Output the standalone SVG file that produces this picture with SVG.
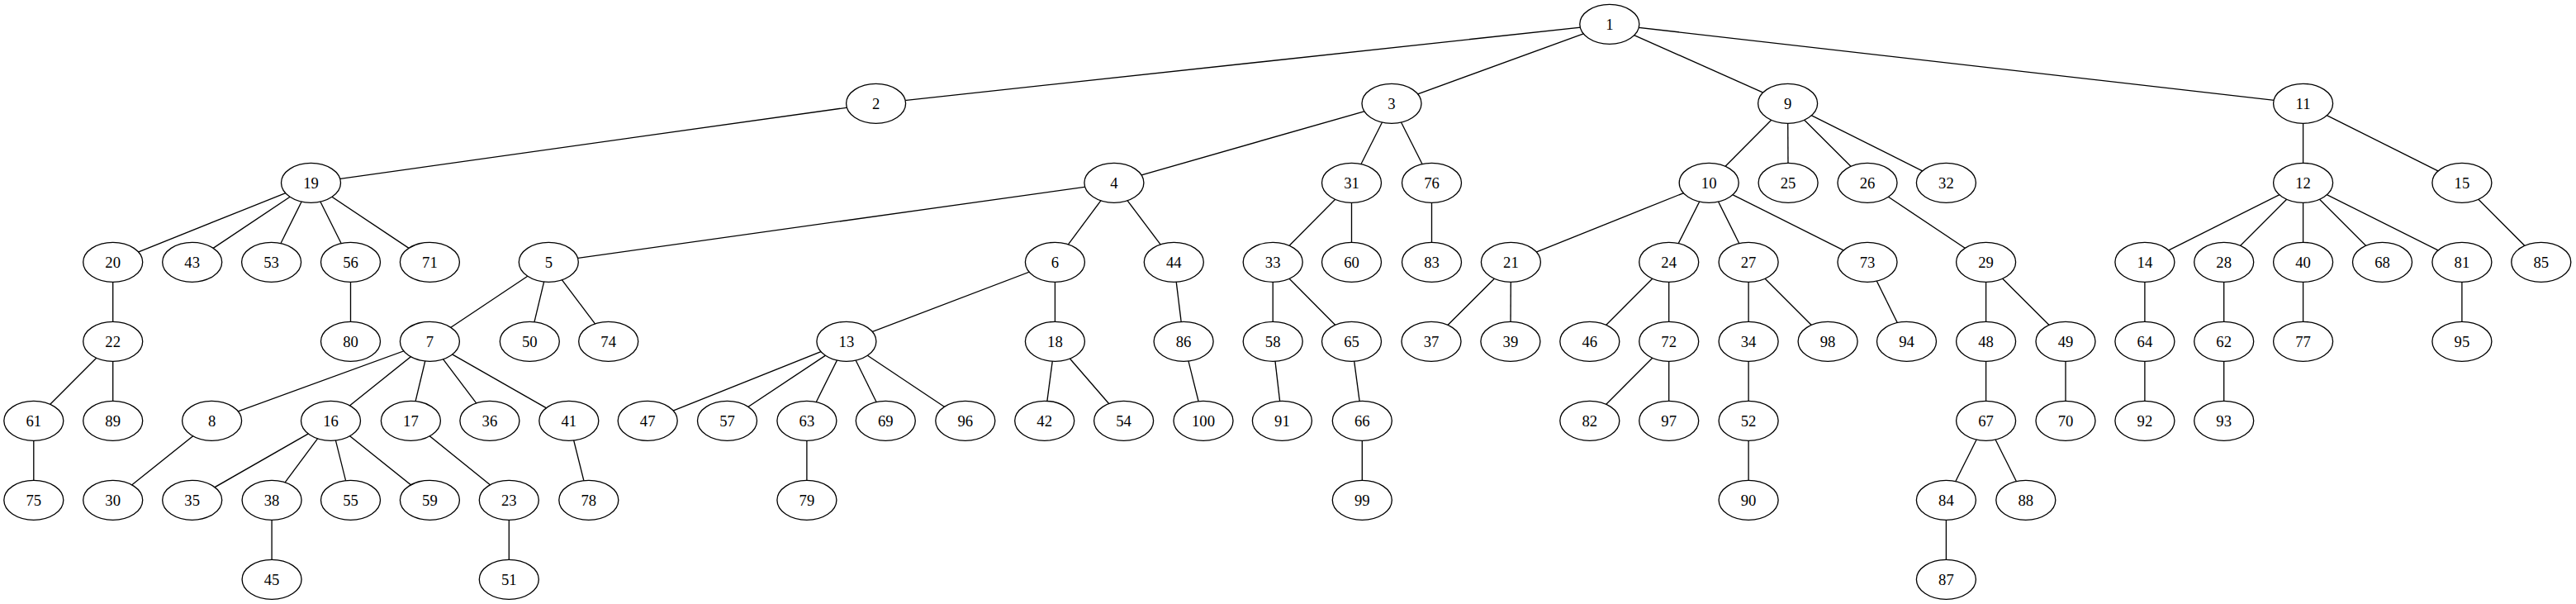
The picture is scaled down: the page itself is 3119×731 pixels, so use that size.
<svg xmlns="http://www.w3.org/2000/svg" width="3119" height="731" viewBox="0 0 3119 731">
<style>
.e line{stroke:#000;stroke-width:1.33}
.n ellipse{fill:#fff;stroke:#000;stroke-width:1.33;rx:36px;ry:24px}
.n text{font-family:"Liberation Serif","Times New Roman",serif;font-size:18.67px;text-anchor:middle;fill:#000}
</style>
<rect width="3119" height="731" fill="#fff"/>
<g id="edges" class="e">
<line x1="1948.8" y1="29.3" x2="1060.6" y2="125.3"/>
<line x1="1948.8" y1="29.3" x2="1685" y2="125.3"/>
<line x1="1948.8" y1="29.3" x2="2164.6" y2="125.3"/>
<line x1="1948.8" y1="29.3" x2="2788.6" y2="125.3"/>
<line x1="1060.6" y1="125.3" x2="376.5" y2="221.3"/>
<line x1="1685" y1="125.3" x2="1348.9" y2="221.3"/>
<line x1="1685" y1="125.3" x2="1636.5" y2="221.3"/>
<line x1="1685" y1="125.3" x2="1733.5" y2="221.3"/>
<line x1="2164.6" y1="125.3" x2="2069.2" y2="221.3"/>
<line x1="2164.6" y1="125.3" x2="2165.1" y2="221.3"/>
<line x1="2164.6" y1="125.3" x2="2261" y2="221.3"/>
<line x1="2164.6" y1="125.3" x2="2356.4" y2="221.3"/>
<line x1="2788.6" y1="125.3" x2="2788.6" y2="221.3"/>
<line x1="2788.6" y1="125.3" x2="2980.9" y2="221.3"/>
<line x1="376.5" y1="221.3" x2="136.7" y2="317.3"/>
<line x1="376.5" y1="221.3" x2="232.7" y2="317.3"/>
<line x1="376.5" y1="221.3" x2="328.6" y2="317.3"/>
<line x1="376.5" y1="221.3" x2="424.5" y2="317.3"/>
<line x1="376.5" y1="221.3" x2="520.4" y2="317.3"/>
<line x1="1348.9" y1="221.3" x2="664.3" y2="317.3"/>
<line x1="1348.9" y1="221.3" x2="1277.4" y2="317.3"/>
<line x1="1348.9" y1="221.3" x2="1421.3" y2="317.3"/>
<line x1="1636.5" y1="221.3" x2="1541.2" y2="317.3"/>
<line x1="1636.5" y1="221.3" x2="1636.5" y2="317.3"/>
<line x1="1733.5" y1="221.3" x2="1733.5" y2="317.3"/>
<line x1="2069.2" y1="221.3" x2="1829.4" y2="317.3"/>
<line x1="2069.2" y1="221.3" x2="2020.7" y2="317.3"/>
<line x1="2069.2" y1="221.3" x2="2117.1" y2="317.3"/>
<line x1="2069.2" y1="221.3" x2="2261" y2="317.3"/>
<line x1="2261" y1="221.3" x2="2404.6" y2="317.3"/>
<line x1="2788.6" y1="221.3" x2="2596.9" y2="317.3"/>
<line x1="2788.6" y1="221.3" x2="2692.7" y2="317.3"/>
<line x1="2788.6" y1="221.3" x2="2788.6" y2="317.3"/>
<line x1="2788.6" y1="221.3" x2="2884.5" y2="317.3"/>
<line x1="2788.6" y1="221.3" x2="2980.9" y2="317.3"/>
<line x1="2980.9" y1="221.3" x2="3076.8" y2="317.3"/>
<line x1="136.7" y1="317.3" x2="136.7" y2="413.3"/>
<line x1="424.5" y1="317.3" x2="424.5" y2="413.3"/>
<line x1="664.3" y1="317.3" x2="520.4" y2="413.3"/>
<line x1="664.3" y1="317.3" x2="641.3" y2="413.3"/>
<line x1="664.3" y1="317.3" x2="736.7" y2="413.3"/>
<line x1="1277.4" y1="317.3" x2="1024.9" y2="413.3"/>
<line x1="1277.4" y1="317.3" x2="1277.4" y2="413.3"/>
<line x1="1421.3" y1="317.3" x2="1433.1" y2="413.3"/>
<line x1="1541.2" y1="317.3" x2="1541.2" y2="413.3"/>
<line x1="1541.2" y1="317.3" x2="1636.5" y2="413.3"/>
<line x1="1829.4" y1="317.3" x2="1733" y2="413.3"/>
<line x1="1829.4" y1="317.3" x2="1828.9" y2="413.3"/>
<line x1="2020.7" y1="317.3" x2="1924.8" y2="413.3"/>
<line x1="2020.7" y1="317.3" x2="2020.7" y2="413.3"/>
<line x1="2117.1" y1="317.3" x2="2117.1" y2="413.3"/>
<line x1="2117.1" y1="317.3" x2="2213.1" y2="413.3"/>
<line x1="2261" y1="317.3" x2="2308.5" y2="413.3"/>
<line x1="2404.6" y1="317.3" x2="2404.6" y2="413.3"/>
<line x1="2404.6" y1="317.3" x2="2501" y2="413.3"/>
<line x1="2596.9" y1="317.3" x2="2596.9" y2="413.3"/>
<line x1="2692.7" y1="317.3" x2="2692.7" y2="413.3"/>
<line x1="2788.6" y1="317.3" x2="2788.6" y2="413.3"/>
<line x1="2980.9" y1="317.3" x2="2980.9" y2="413.3"/>
<line x1="136.7" y1="413.3" x2="40.8" y2="509.3"/>
<line x1="136.7" y1="413.3" x2="136.7" y2="509.3"/>
<line x1="520.4" y1="413.3" x2="256.6" y2="509.3"/>
<line x1="520.4" y1="413.3" x2="400.5" y2="509.3"/>
<line x1="520.4" y1="413.3" x2="497.4" y2="509.3"/>
<line x1="520.4" y1="413.3" x2="592.9" y2="509.3"/>
<line x1="520.4" y1="413.3" x2="688.8" y2="509.3"/>
<line x1="1024.9" y1="413.3" x2="784.2" y2="509.3"/>
<line x1="1024.9" y1="413.3" x2="880.5" y2="509.3"/>
<line x1="1024.9" y1="413.3" x2="976.9" y2="509.3"/>
<line x1="1024.9" y1="413.3" x2="1072.3" y2="509.3"/>
<line x1="1024.9" y1="413.3" x2="1168.8" y2="509.3"/>
<line x1="1277.4" y1="413.3" x2="1264.7" y2="509.3"/>
<line x1="1277.4" y1="413.3" x2="1360.6" y2="509.3"/>
<line x1="1433.1" y1="413.3" x2="1457" y2="509.3"/>
<line x1="1541.2" y1="413.3" x2="1552.4" y2="509.3"/>
<line x1="1636.5" y1="413.3" x2="1649.3" y2="509.3"/>
<line x1="2020.7" y1="413.3" x2="1924.8" y2="509.3"/>
<line x1="2020.7" y1="413.3" x2="2020.7" y2="509.3"/>
<line x1="2117.1" y1="413.3" x2="2117.1" y2="509.3"/>
<line x1="2404.6" y1="413.3" x2="2404.6" y2="509.3"/>
<line x1="2501" y1="413.3" x2="2501" y2="509.3"/>
<line x1="2596.9" y1="413.3" x2="2596.9" y2="509.3"/>
<line x1="2692.7" y1="413.3" x2="2692.7" y2="509.3"/>
<line x1="40.8" y1="509.3" x2="40.8" y2="605.3"/>
<line x1="256.6" y1="509.3" x2="136.7" y2="605.3"/>
<line x1="400.5" y1="509.3" x2="232.7" y2="605.3"/>
<line x1="400.5" y1="509.3" x2="329.1" y2="605.3"/>
<line x1="400.5" y1="509.3" x2="424.5" y2="605.3"/>
<line x1="400.5" y1="509.3" x2="520.4" y2="605.3"/>
<line x1="497.4" y1="509.3" x2="616.3" y2="605.3"/>
<line x1="688.8" y1="509.3" x2="712.8" y2="605.3"/>
<line x1="976.9" y1="509.3" x2="976.9" y2="605.3"/>
<line x1="1649.3" y1="509.3" x2="1649.3" y2="605.3"/>
<line x1="2117.1" y1="509.3" x2="2117.1" y2="605.3"/>
<line x1="2404.6" y1="509.3" x2="2356.4" y2="605.3"/>
<line x1="2404.6" y1="509.3" x2="2452.8" y2="605.3"/>
<line x1="329.1" y1="605.3" x2="329.1" y2="701.3"/>
<line x1="616.3" y1="605.3" x2="616.3" y2="701.3"/>
<line x1="2356.4" y1="605.3" x2="2356.4" y2="701.3"/>
</g>
<g class="n">
<g id="n1"><ellipse cx="1948.8" cy="29.3"/><text x="1948.8" y="35.8">1</text></g>
<g id="n2"><ellipse cx="1060.6" cy="125.3"/><text x="1060.6" y="131.8">2</text></g>
<g id="n3"><ellipse cx="1685" cy="125.3"/><text x="1685" y="131.8">3</text></g>
<g id="n9"><ellipse cx="2164.6" cy="125.3"/><text x="2164.6" y="131.8">9</text></g>
<g id="n11"><ellipse cx="2788.6" cy="125.3"/><text x="2788.6" y="131.8">11</text></g>
<g id="n19"><ellipse cx="376.5" cy="221.3"/><text x="376.5" y="227.8">19</text></g>
<g id="n4"><ellipse cx="1348.9" cy="221.3"/><text x="1348.9" y="227.8">4</text></g>
<g id="n31"><ellipse cx="1636.5" cy="221.3"/><text x="1636.5" y="227.8">31</text></g>
<g id="n76"><ellipse cx="1733.5" cy="221.3"/><text x="1733.5" y="227.8">76</text></g>
<g id="n10"><ellipse cx="2069.2" cy="221.3"/><text x="2069.2" y="227.8">10</text></g>
<g id="n25"><ellipse cx="2165.1" cy="221.3"/><text x="2165.1" y="227.8">25</text></g>
<g id="n26"><ellipse cx="2261" cy="221.3"/><text x="2261" y="227.8">26</text></g>
<g id="n32"><ellipse cx="2356.4" cy="221.3"/><text x="2356.4" y="227.8">32</text></g>
<g id="n12"><ellipse cx="2788.6" cy="221.3"/><text x="2788.6" y="227.8">12</text></g>
<g id="n15"><ellipse cx="2980.9" cy="221.3"/><text x="2980.9" y="227.8">15</text></g>
<g id="n20"><ellipse cx="136.7" cy="317.3"/><text x="136.7" y="323.8">20</text></g>
<g id="n43"><ellipse cx="232.7" cy="317.3"/><text x="232.7" y="323.8">43</text></g>
<g id="n53"><ellipse cx="328.6" cy="317.3"/><text x="328.6" y="323.8">53</text></g>
<g id="n56"><ellipse cx="424.5" cy="317.3"/><text x="424.5" y="323.8">56</text></g>
<g id="n71"><ellipse cx="520.4" cy="317.3"/><text x="520.4" y="323.8">71</text></g>
<g id="n5"><ellipse cx="664.3" cy="317.3"/><text x="664.3" y="323.8">5</text></g>
<g id="n6"><ellipse cx="1277.4" cy="317.3"/><text x="1277.4" y="323.8">6</text></g>
<g id="n44"><ellipse cx="1421.3" cy="317.3"/><text x="1421.3" y="323.8">44</text></g>
<g id="n33"><ellipse cx="1541.2" cy="317.3"/><text x="1541.2" y="323.8">33</text></g>
<g id="n60"><ellipse cx="1636.5" cy="317.3"/><text x="1636.5" y="323.8">60</text></g>
<g id="n83"><ellipse cx="1733.5" cy="317.3"/><text x="1733.5" y="323.8">83</text></g>
<g id="n21"><ellipse cx="1829.4" cy="317.3"/><text x="1829.4" y="323.8">21</text></g>
<g id="n24"><ellipse cx="2020.7" cy="317.3"/><text x="2020.7" y="323.8">24</text></g>
<g id="n27"><ellipse cx="2117.1" cy="317.3"/><text x="2117.1" y="323.8">27</text></g>
<g id="n73"><ellipse cx="2261" cy="317.3"/><text x="2261" y="323.8">73</text></g>
<g id="n29"><ellipse cx="2404.6" cy="317.3"/><text x="2404.6" y="323.8">29</text></g>
<g id="n14"><ellipse cx="2596.9" cy="317.3"/><text x="2596.9" y="323.8">14</text></g>
<g id="n28"><ellipse cx="2692.7" cy="317.3"/><text x="2692.7" y="323.8">28</text></g>
<g id="n40"><ellipse cx="2788.6" cy="317.3"/><text x="2788.6" y="323.8">40</text></g>
<g id="n68"><ellipse cx="2884.5" cy="317.3"/><text x="2884.5" y="323.8">68</text></g>
<g id="n81"><ellipse cx="2980.9" cy="317.3"/><text x="2980.9" y="323.8">81</text></g>
<g id="n85"><ellipse cx="3076.8" cy="317.3"/><text x="3076.8" y="323.8">85</text></g>
<g id="n22"><ellipse cx="136.7" cy="413.3"/><text x="136.7" y="419.8">22</text></g>
<g id="n80"><ellipse cx="424.5" cy="413.3"/><text x="424.5" y="419.8">80</text></g>
<g id="n7"><ellipse cx="520.4" cy="413.3"/><text x="520.4" y="419.8">7</text></g>
<g id="n50"><ellipse cx="641.3" cy="413.3"/><text x="641.3" y="419.8">50</text></g>
<g id="n74"><ellipse cx="736.7" cy="413.3"/><text x="736.7" y="419.8">74</text></g>
<g id="n13"><ellipse cx="1024.9" cy="413.3"/><text x="1024.9" y="419.8">13</text></g>
<g id="n18"><ellipse cx="1277.4" cy="413.3"/><text x="1277.4" y="419.8">18</text></g>
<g id="n86"><ellipse cx="1433.1" cy="413.3"/><text x="1433.1" y="419.8">86</text></g>
<g id="n58"><ellipse cx="1541.2" cy="413.3"/><text x="1541.2" y="419.8">58</text></g>
<g id="n65"><ellipse cx="1636.5" cy="413.3"/><text x="1636.5" y="419.8">65</text></g>
<g id="n37"><ellipse cx="1733" cy="413.3"/><text x="1733" y="419.8">37</text></g>
<g id="n39"><ellipse cx="1828.9" cy="413.3"/><text x="1828.9" y="419.8">39</text></g>
<g id="n46"><ellipse cx="1924.8" cy="413.3"/><text x="1924.8" y="419.8">46</text></g>
<g id="n72"><ellipse cx="2020.7" cy="413.3"/><text x="2020.7" y="419.8">72</text></g>
<g id="n34"><ellipse cx="2117.1" cy="413.3"/><text x="2117.1" y="419.8">34</text></g>
<g id="n98"><ellipse cx="2213.1" cy="413.3"/><text x="2213.1" y="419.8">98</text></g>
<g id="n94"><ellipse cx="2308.5" cy="413.3"/><text x="2308.5" y="419.8">94</text></g>
<g id="n48"><ellipse cx="2404.6" cy="413.3"/><text x="2404.6" y="419.8">48</text></g>
<g id="n49"><ellipse cx="2501" cy="413.3"/><text x="2501" y="419.8">49</text></g>
<g id="n64"><ellipse cx="2596.9" cy="413.3"/><text x="2596.9" y="419.8">64</text></g>
<g id="n62"><ellipse cx="2692.7" cy="413.3"/><text x="2692.7" y="419.8">62</text></g>
<g id="n77"><ellipse cx="2788.6" cy="413.3"/><text x="2788.6" y="419.8">77</text></g>
<g id="n95"><ellipse cx="2980.9" cy="413.3"/><text x="2980.9" y="419.8">95</text></g>
<g id="n61"><ellipse cx="40.8" cy="509.3"/><text x="40.8" y="515.8">61</text></g>
<g id="n89"><ellipse cx="136.7" cy="509.3"/><text x="136.7" y="515.8">89</text></g>
<g id="n8"><ellipse cx="256.6" cy="509.3"/><text x="256.6" y="515.8">8</text></g>
<g id="n16"><ellipse cx="400.5" cy="509.3"/><text x="400.5" y="515.8">16</text></g>
<g id="n17"><ellipse cx="497.4" cy="509.3"/><text x="497.4" y="515.8">17</text></g>
<g id="n36"><ellipse cx="592.9" cy="509.3"/><text x="592.9" y="515.8">36</text></g>
<g id="n41"><ellipse cx="688.8" cy="509.3"/><text x="688.8" y="515.8">41</text></g>
<g id="n47"><ellipse cx="784.2" cy="509.3"/><text x="784.2" y="515.8">47</text></g>
<g id="n57"><ellipse cx="880.5" cy="509.3"/><text x="880.5" y="515.8">57</text></g>
<g id="n63"><ellipse cx="976.9" cy="509.3"/><text x="976.9" y="515.8">63</text></g>
<g id="n69"><ellipse cx="1072.3" cy="509.3"/><text x="1072.3" y="515.8">69</text></g>
<g id="n96"><ellipse cx="1168.8" cy="509.3"/><text x="1168.8" y="515.8">96</text></g>
<g id="n42"><ellipse cx="1264.7" cy="509.3"/><text x="1264.7" y="515.8">42</text></g>
<g id="n54"><ellipse cx="1360.6" cy="509.3"/><text x="1360.6" y="515.8">54</text></g>
<g id="n100"><ellipse cx="1457" cy="509.3"/><text x="1457" y="515.8">100</text></g>
<g id="n91"><ellipse cx="1552.4" cy="509.3"/><text x="1552.4" y="515.8">91</text></g>
<g id="n66"><ellipse cx="1649.3" cy="509.3"/><text x="1649.3" y="515.8">66</text></g>
<g id="n82"><ellipse cx="1924.8" cy="509.3"/><text x="1924.8" y="515.8">82</text></g>
<g id="n97"><ellipse cx="2020.7" cy="509.3"/><text x="2020.7" y="515.8">97</text></g>
<g id="n52"><ellipse cx="2117.1" cy="509.3"/><text x="2117.1" y="515.8">52</text></g>
<g id="n67"><ellipse cx="2404.6" cy="509.3"/><text x="2404.6" y="515.8">67</text></g>
<g id="n70"><ellipse cx="2501" cy="509.3"/><text x="2501" y="515.8">70</text></g>
<g id="n92"><ellipse cx="2596.9" cy="509.3"/><text x="2596.9" y="515.8">92</text></g>
<g id="n93"><ellipse cx="2692.7" cy="509.3"/><text x="2692.7" y="515.8">93</text></g>
<g id="n75"><ellipse cx="40.8" cy="605.3"/><text x="40.8" y="611.8">75</text></g>
<g id="n30"><ellipse cx="136.7" cy="605.3"/><text x="136.7" y="611.8">30</text></g>
<g id="n35"><ellipse cx="232.7" cy="605.3"/><text x="232.7" y="611.8">35</text></g>
<g id="n38"><ellipse cx="329.1" cy="605.3"/><text x="329.1" y="611.8">38</text></g>
<g id="n55"><ellipse cx="424.5" cy="605.3"/><text x="424.5" y="611.8">55</text></g>
<g id="n59"><ellipse cx="520.4" cy="605.3"/><text x="520.4" y="611.8">59</text></g>
<g id="n23"><ellipse cx="616.3" cy="605.3"/><text x="616.3" y="611.8">23</text></g>
<g id="n78"><ellipse cx="712.8" cy="605.3"/><text x="712.8" y="611.8">78</text></g>
<g id="n79"><ellipse cx="976.9" cy="605.3"/><text x="976.9" y="611.8">79</text></g>
<g id="n99"><ellipse cx="1649.3" cy="605.3"/><text x="1649.3" y="611.8">99</text></g>
<g id="n90"><ellipse cx="2117.1" cy="605.3"/><text x="2117.1" y="611.8">90</text></g>
<g id="n84"><ellipse cx="2356.4" cy="605.3"/><text x="2356.4" y="611.8">84</text></g>
<g id="n88"><ellipse cx="2452.8" cy="605.3"/><text x="2452.8" y="611.8">88</text></g>
<g id="n45"><ellipse cx="329.1" cy="701.3"/><text x="329.1" y="707.8">45</text></g>
<g id="n51"><ellipse cx="616.3" cy="701.3"/><text x="616.3" y="707.8">51</text></g>
<g id="n87"><ellipse cx="2356.4" cy="701.3"/><text x="2356.4" y="707.8">87</text></g>
</g>
</svg>
